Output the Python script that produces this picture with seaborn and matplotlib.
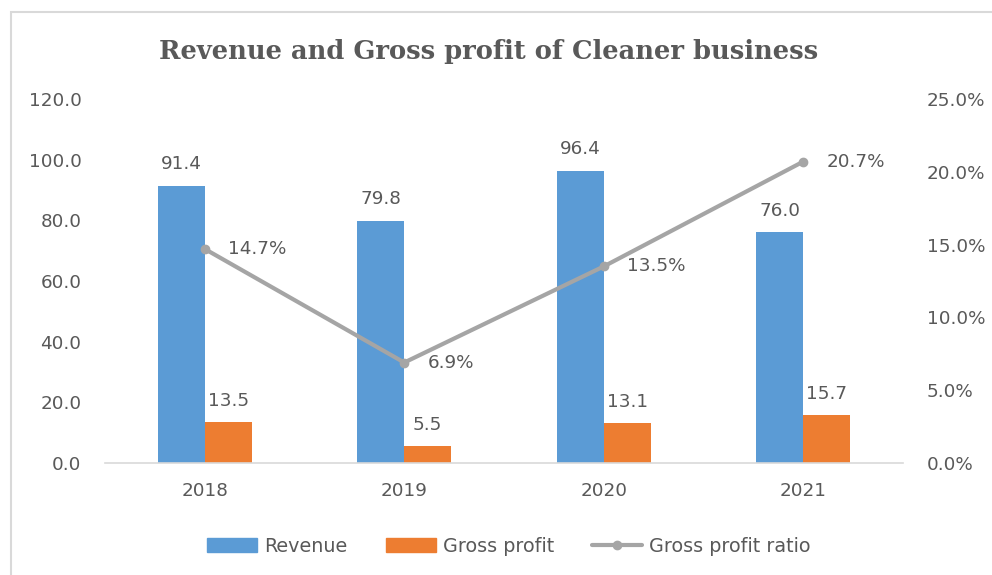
import matplotlib
matplotlib.use("Agg")
import matplotlib.pyplot as plt
import matplotlib.patches as mpatches
from matplotlib.lines import Line2D
from matplotlib.ticker import FuncFormatter, MultipleLocator
import seaborn as sns
import pandas as pd

years = ["2018", "2019", "2020", "2021"]
revenue = [91.4, 79.8, 96.4, 76.0]
gross_profit = [13.5, 5.5, 13.1, 15.7]
gp_ratio = [0.147, 0.069, 0.135, 0.207]
series_names = ["Revenue", "Gross profit", "Gross profit ratio"]
title = "Revenue and Gross profit of Cleaner business"

BLUE = "#5B9BD5"
ORANGE = "#ED7D31"
GRAY = "#A5A5A5"
TXT = "#595959"
FS = 13.2

sns.set_theme(style="white")
plt.rcParams["font.family"] = ["DejaVu Sans"]

df = pd.DataFrame({
    "year": years * 2,
    "value": revenue + gross_profit,
    "series": [series_names[0]] * 4 + [series_names[1]] * 4,
})

fig = plt.figure(figsize=(9.92, 5.75), dpi=100)
ax = fig.add_axes([105 / 992, 1 - 463 / 575, (903 - 105) / 992, (463 - 99) / 575])

sns.barplot(data=df, x="year", y="value", hue="series", order=years,
            hue_order=series_names[:2], palette=[BLUE, ORANGE],
            width=0.47, gap=0, saturation=1, ax=ax, legend=False,
            linewidth=0, edgecolor="none")

for cont in ax.containers:
    ax.bar_label(cont, labels=[f"{v:.1f}" for v in cont.datavalues],
                 padding=9, fontsize=FS, color=TXT)

ax.set_ylim(0, 120)
ax.yaxis.set_major_locator(MultipleLocator(20))
ax.yaxis.set_major_formatter(FuncFormatter(lambda v, p: f"{v:.1f}"))
ax.set_xlabel("")
ax.set_ylabel("")
ax.tick_params(axis="y", length=0, pad=17, labelsize=FS, labelcolor=TXT)
ax.tick_params(axis="x", length=0, pad=14, labelsize=FS, labelcolor=TXT)
for s in ["top", "right", "left"]:
    ax.spines[s].set_visible(False)
ax.spines["bottom"].set_color("#D9D9D9")
ax.spines["bottom"].set_linewidth(1.2)

ax2 = ax.twinx()
ax2.plot(range(len(years)), gp_ratio, color=GRAY, linewidth=3,
         marker="o", markersize=6, solid_capstyle="round")
ax2.set_ylim(0, 0.25)
ax2.yaxis.set_major_locator(MultipleLocator(0.05))
ax2.yaxis.set_major_formatter(FuncFormatter(lambda v, p: f"{v*100:.1f}%"))
ax2.tick_params(axis="y", length=0, pad=17, labelsize=FS, labelcolor=TXT)
for s in ["top", "right", "left", "bottom"]:
    ax2.spines[s].set_visible(False)
for i, r in enumerate(gp_ratio):
    ax2.annotate(f"{r*100:.1f}%", (i, r), xytext=(17, 0), textcoords="offset points",
                 ha="left", va="center", fontsize=FS, color=TXT)
ax.set_xlim(-0.5, 3.5)

fig.text(0.493, 1 - 52 / 575, title, ha="center", va="center",
         fontsize=18.5, fontweight="bold", family="DejaVu Serif", color=TXT)

handles = [
    mpatches.Patch(color=BLUE, label=series_names[0]),
    mpatches.Patch(color=ORANGE, label=series_names[1]),
    Line2D([0], [0], color=GRAY, linewidth=3, marker="o", markersize=6,
           label=series_names[2]),
]
fig.legend(handles=handles, loc="center", bbox_to_anchor=(0.513, 1 - 546 / 575),
           ncol=3, frameon=False, fontsize=13.8, labelcolor=TXT,
           handlelength=2.6, handleheight=0.7, handletextpad=0.37, columnspacing=2.0)

border = mpatches.Rectangle((11 / 992, -0.1), 1.2, 1 - 12 / 575 + 0.1,
                            transform=fig.transFigure, fill=False,
                            edgecolor="#D9D9D9", linewidth=1.5)
fig.patches.append(border)

fig.savefig("out.png", dpi=100)
